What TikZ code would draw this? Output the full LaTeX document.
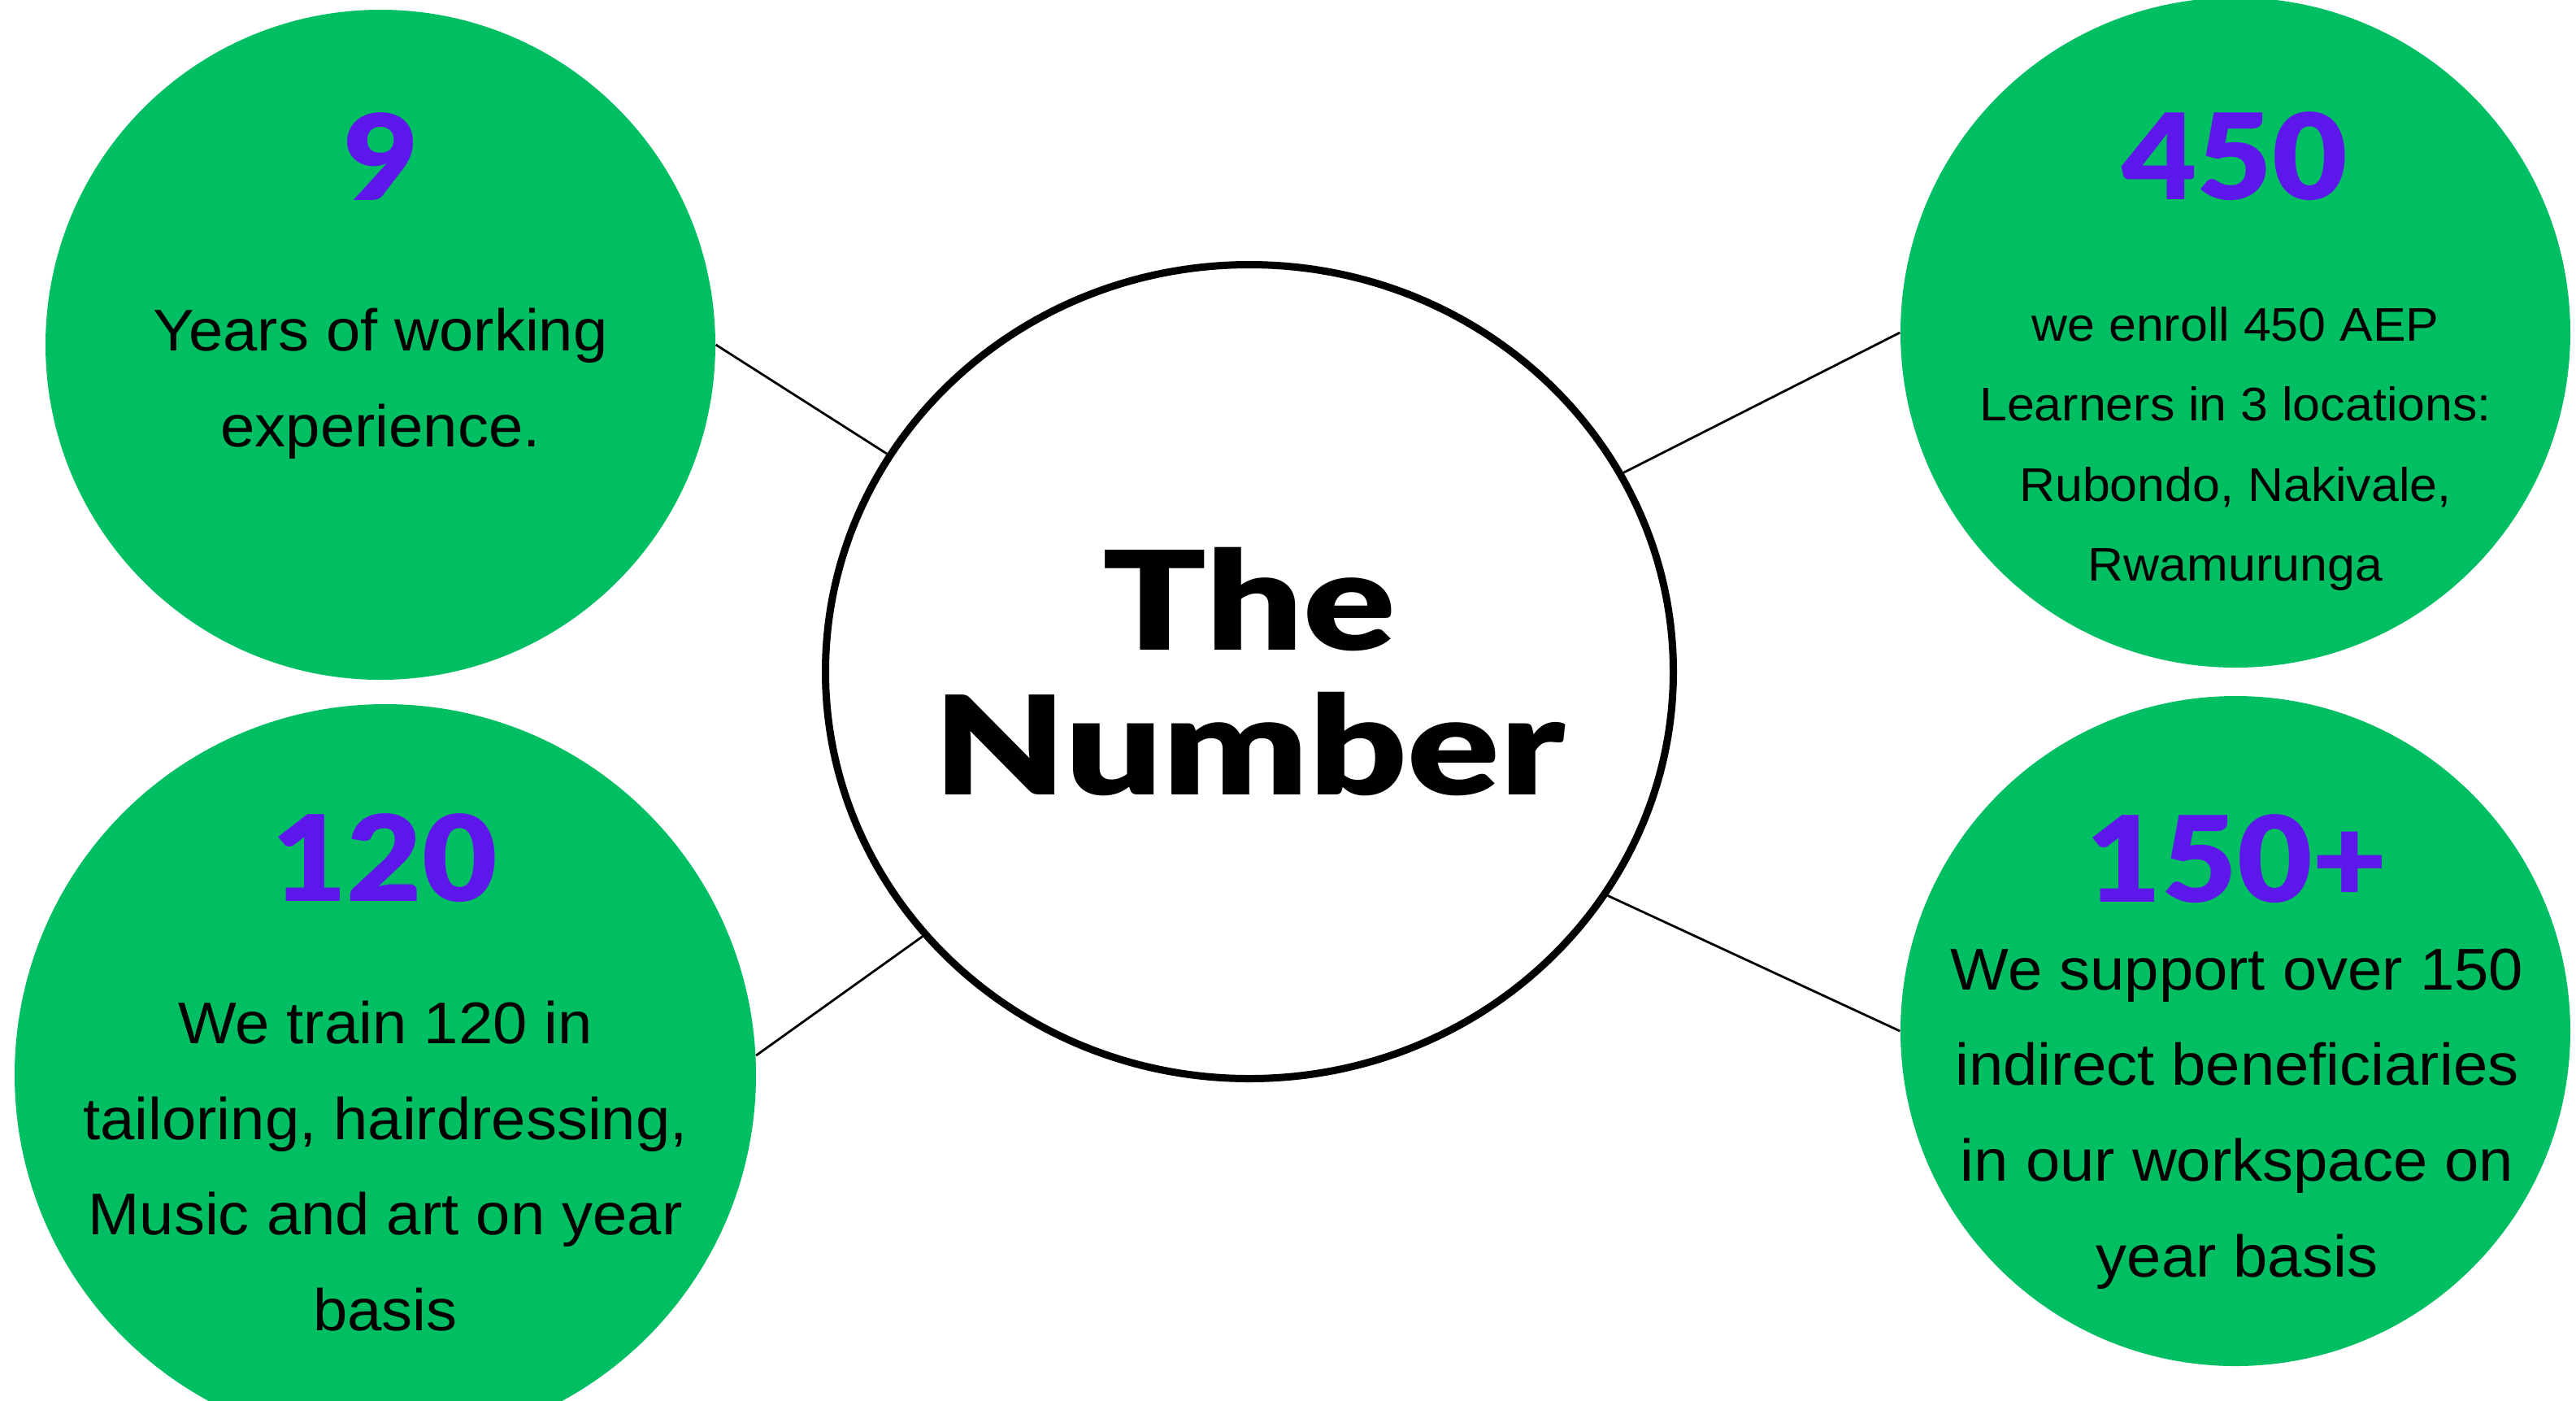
\documentclass[tikz,border=0pt]{standalone}
\usepackage{fontspec}
\setmainfont{Liberation Sans}
\newfontfamily\statfont[FakeStretch=1.05]{Liberation Sans}
\newfontfamily\heavyfont[FakeStretch=1.09]{Lato Black}
\newfontfamily\titlefont[FakeStretch=1.25]{Lato Black}
\usetikzlibrary{shapes.geometric}
\definecolor{statgreen}{HTML}{00BF63}
\definecolor{statpurple}{HTML}{5E17EB}

\begin{document}
\begin{tikzpicture}
    \tikzset
    {
        bubble/.style = {circle,
                         fill = statgreen,
                         inner sep = 0pt},
        hub/.style = {ellipse,
                      draw,
                      line width = 0.09cm,
                      fill = white,
                      inner sep = 0pt,
                      minimum width = 10.43cm,
                      minimum height = 10.01cm},
        title/.style = {align = center,
                        inner sep = 0pt,
                        font = \titlefont\fontsize{48}{50.6}\selectfont},
        figure/.style = {text = statpurple,
                         inner sep = 0pt,
                         font = \heavyfont\fontsize{41.7}{44}\selectfont},
        desc/.style = {align = center,
                       inner sep = 0pt,
                       font = \statfont\fontsize{20.6}{33.5}\selectfont},
        small desc/.style = {desc,
                             font = \statfont\fontsize{16.5}{27.9}\selectfont},
        link/.style = {line width = 0.028cm}
    };
    \useasboundingbox (0,0) rectangle (31.69,-17.22);

    % Bubbles
    \node[bubble, minimum size = 8.24cm] (c9)   at (4.68,-4.24)   {};
    \node[bubble, minimum size = 9.12cm] (c120) at (4.74,-13.22)  {};
    \node[bubble, minimum size = 8.24cm] (c450) at (27.50,-4.09)  {};
    \node[bubble, minimum size = 8.24cm] (c150) at (27.50,-12.68) {};
    % Centre
    \node[hub] (hub) at (15.37,-8.26) {};
    \node[title] (title) at (hub.center) {The\\Number};

    % Figures
    \node[figure] (n9)   at (4.69,-1.925)  {9};
    \node[figure] (n120) at (4.73,-10.55)  {120};
    \node[figure] (n450) at (27.49,-1.925) {450};
    \node[figure] (n150) at (27.52,-10.56) {150+};

    % Texts
    \node[desc] (t9) at (4.68,-4.72) {Years of working\\experience.};
    \node[desc] (t120) at (4.74,-14.34)
        {We train 120 in\\tailoring, hairdressing,\\Music and art on year\\basis};
    \node[small desc] (t450) at (27.50,-5.52)
        {we enroll 450 AEP\\Learners in 3 locations:\\Rubondo, Nakivale,\\Rwamurunga};
    \node[desc] (t150) at (27.52,-13.76)
        {We support over 150\\indirect beneficiaries\\in our workspace on\\year basis};

    % Links
    \draw[link] (c9.east)   -- (hub.149);
    \draw[link] (c450.west) -- (hub.28);
    \draw[link] (c120.3)    -- (hub.219);
    \draw[link] (c150.west) -- (hub.328);
\end{tikzpicture}
\end{document}
